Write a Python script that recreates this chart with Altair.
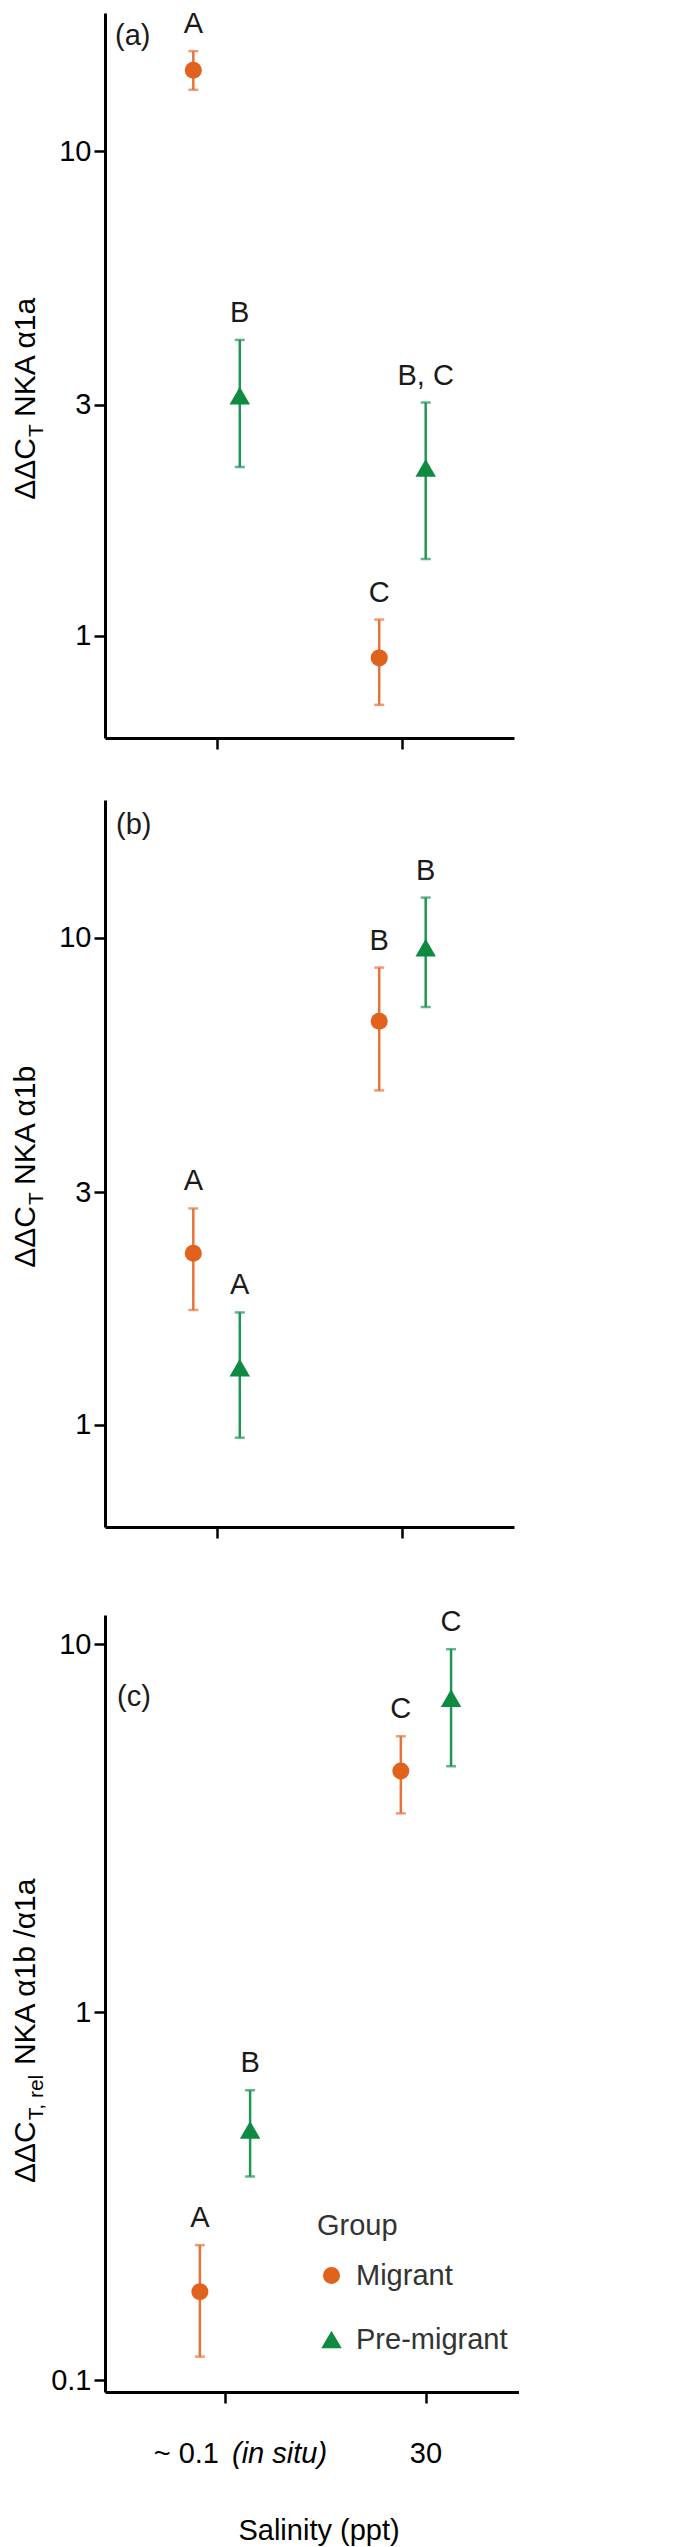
import altair as alt
import pandas as pd

# ---------------- data ----------------
SALINITY = ["~ 0.1", "30"]
GROUPS = ["Migrant", "Pre-migrant"]
ROW_SAL = ["~ 0.1", "~ 0.1", "30", "30"]
ROW_GRP = ["Migrant", "Pre-migrant", "Migrant", "Pre-migrant"]

A_MEAN = [14.7, 3.13, 0.90, 2.22]
A_LOW = [13.4, 2.23, 0.72, 1.44]
A_UP = [16.1, 4.08, 1.08, 3.03]
A_LET = ["A", "B", "C", "B, C"]

B_MEAN = [2.25, 1.31, 6.74, 9.55]
B_LOW = [1.72, 0.94, 4.86, 7.21]
B_UP = [2.78, 1.70, 8.69, 12.1]
B_LET = ["A", "A", "B", "B"]

C_MEAN = [0.174, 0.479, 4.52, 7.13]
C_LOW = [0.116, 0.358, 3.47, 4.66]
C_UP = [0.233, 0.614, 5.62, 9.69]
C_LET = ["A", "B", "C", "C"]

AB_TICKS = [1, 3, 10]
C_TICKS = [0.1, 1, 10]

POINT_COLORS = ["#E0621C", "#0E8A41"]
BAR_COLORS = ["#E8733A", "#1F9656"]
SHAPES = ["circle", "triangle-up"]
POINT_SIZES = [290, 420]

FONT = "Liberation Sans"
FS = 29          # general font size
TFS = 30         # y title font size
SFS = 21         # subscript font size
DODGE = 0.125

# approximate advance widths (em) for title layout
W = {"Δ": 0.668, "C": 0.722, "T": 0.611, ",": 0.278, " ": 0.278, "r": 0.333,
     "e": 0.556, "l": 0.222, "N": 0.722, "K": 0.667, "A": 0.667, "α": 0.578,
     "1": 0.556, "a": 0.556, "b": 0.556, "/": 0.278}


def tw(s, fs):
    return sum(W.get(ch, 0.55) for ch in s) * fs


def txt(text, x, y, **kw):
    return alt.Chart(pd.DataFrame({"t": [text]})).mark_text(**kw).encode(
        x=alt.value(x), y=alt.value(y), text="t:N")


def ytitle(main1, sub, main2, center, x0=-70):
    w1 = tw(main1, TFS)
    w2 = tw(sub, SFS)
    gap = 0.278 * TFS
    w3 = tw(main2, TFS)
    total = w1 + w2 + gap + w3
    start = center + total / 2
    common = dict(angle=270, align="left", baseline="alphabetic", color="black", font=FONT)
    return [
        txt(main1, x0, start, fontSize=TFS, **common),
        txt(sub, x0 + 8, start - w1 - 1, fontSize=SFS, **common),
        txt(main2, x0, start - w1 - w2 - gap, fontSize=TFS, **common),
    ]


def panel(mean, low, up, letters, ydom, yticks, width, height, xdom, tag, tag_xy,
          title_parts, title_center, legend=None, bottom=False, extra_top=0):
    df = pd.DataFrame({"sal": ROW_SAL, "grp": ROW_GRP, "mean": mean,
                       "low": low, "up": up, "letter": letters})
    df["xi"] = [SALINITY.index(s) + 1 for s in ROW_SAL]
    base = alt.Chart(df).transform_calculate(
        xpos=f"datum.xi + (datum.grp === '{GROUPS[0]}' ? {-DODGE} : {DODGE})")
    xaxis = alt.Axis(values=[1, 2], labels=False, title=None, grid=False, tickSize=11,
                     tickWidth=2.5, domainWidth=3, domainColor="black", tickColor="black")
    x = alt.X("xpos:Q", scale=alt.Scale(domain=xdom, nice=False, zero=False), axis=xaxis)
    yscale = alt.Scale(type="log", domain=ydom, nice=False)
    yaxis = alt.Axis(values=yticks, title=None, grid=False, tickSize=11, tickWidth=2.5,
                     domainWidth=3, domainColor="black", tickColor="black",
                     labelFontSize=FS, labelColor="black", labelFont=FONT, labelPadding=3,
                     labelExpr="'' + datum.value")
    cond = alt.condition(alt.datum.grp == GROUPS[0], alt.value(BAR_COLORS[0]),
                         alt.value(BAR_COLORS[1]))
    rules = base.mark_rule(strokeWidth=2.5).encode(
        x=x, y=alt.Y("low:Q", scale=yscale, axis=yaxis), y2="up:Q", color=cond)
    cap_lo = base.mark_tick(orient="horizontal", size=10, thickness=2.5).encode(
        x=x, y=alt.Y("low:Q", scale=yscale, axis=yaxis), color=cond)
    cap_hi = base.mark_tick(orient="horizontal", size=10, thickness=2.5).encode(
        x=x, y=alt.Y("up:Q", scale=yscale, axis=yaxis), color=cond)
    leg = legend if legend is not None else None
    points = base.mark_point(filled=True, opacity=1).encode(
        x=x, y=alt.Y("mean:Q", scale=yscale, axis=yaxis),
        color=alt.Color("grp:N", scale=alt.Scale(domain=GROUPS, range=POINT_COLORS), legend=leg),
        shape=alt.Shape("grp:N", scale=alt.Scale(domain=GROUPS, range=SHAPES), legend=leg),
        size=alt.Size("grp:N", scale=alt.Scale(domain=GROUPS, range=POINT_SIZES), legend=None),
    )
    lets = base.mark_text(fontSize=FS, baseline="alphabetic", dy=-18, color="#1a1a1a",
                          font=FONT).encode(
        x=x, y=alt.Y("up:Q", scale=yscale, axis=yaxis), text="letter:N")
    layers = [rules, cap_lo, cap_hi, points, lets,
              txt(tag, tag_xy[0], tag_xy[1], fontSize=FS, align="left",
                  baseline="alphabetic", color="#1a1a1a", font=FONT)]
    layers += ytitle(*title_parts, center=title_center)
    if extra_top:
        layers.append(alt.Chart(pd.DataFrame({"t": [0]})).mark_rule(color="white", strokeWidth=1)
                      .encode(x=alt.value(width * 0.7), y=alt.value(-extra_top), y2=alt.value(-1)))
    if bottom:
        lab_df = pd.DataFrame({"xi": [1, 1, 2], "lab": ["~ 0.1", "(in situ)", "30"]})
        lab = alt.Chart(lab_df)
        xl = alt.X("xi:Q", scale=alt.Scale(domain=xdom, nice=False, zero=False), axis=xaxis)
        common = dict(fontSize=FS, baseline="alphabetic", color="black", font=FONT)
        layers.append(lab.transform_filter(alt.datum.lab == "~ 0.1").mark_text(
            align="right", dx=-6, **common).encode(x=xl, y=alt.value(height + 71), text="lab:N"))
        layers.append(lab.transform_filter(alt.datum.lab == "(in situ)").mark_text(
            align="left", dx=7, fontStyle="italic", **common).encode(
            x=xl, y=alt.value(height + 71), text="lab:N"))
        layers.append(lab.transform_filter(alt.datum.lab == "30").mark_text(
            align="center", **common).encode(x=xl, y=alt.value(height + 71), text="lab:N"))
        layers.append(txt("Salinity (ppt)", width * 0.517, height + 148, fontSize=FS,
                          align="center", baseline="alphabetic", color="black", font=FONT))
    return alt.layer(*layers).properties(width=width, height=height)


legend_c = alt.Legend(title="Group", orient="none", legendX=212, legendY=597,
                      titleFontSize=FS, labelFontSize=FS, titleFontWeight="normal",
                      titleFont=FONT, labelFont=FONT, titleColor="#333333",
                      labelColor="#333333", symbolSize=380, rowPadding=34,
                      titlePadding=20, labelOffset=10, symbolStrokeWidth=0)

pa = panel(A_MEAN, A_LOW, A_UP, A_LET, [0.615, 19.3], AB_TICKS, 409, 725, [0.4, 2.6],
           "(a)", (10, 32), ("ΔΔC", "T", "NKA α1a"), 385)
pb = panel(B_MEAN, B_LOW, B_UP, B_LET, [0.616, 19.2], AB_TICKS, 409, 727, [0.4, 2.6],
           "(b)", (11, 34), ("ΔΔC", "T", "NKA α1b"), 366)
pc = panel(C_MEAN, C_LOW, C_UP, C_LET, [0.093, 12.0], C_TICKS, 414, 777, [0.403, 2.463],
           "(c)", (12, 91), ("ΔΔC", "T, rel", "NKA α1b /α1a"), 415,
           legend=legend_c, bottom=True, extra_top=25)

chart = alt.vconcat(pa, pb, pc, spacing=49).resolve_scale(
    x="independent", y="independent", color="independent", shape="independent",
    size="independent"
).properties(
    padding={"left": 2, "top": 2, "right": 0, "bottom": 0}
).configure(font=FONT).configure_view(stroke=None)

chart.save("out.html", embed_options={"renderer": "svg", "actions": False})
